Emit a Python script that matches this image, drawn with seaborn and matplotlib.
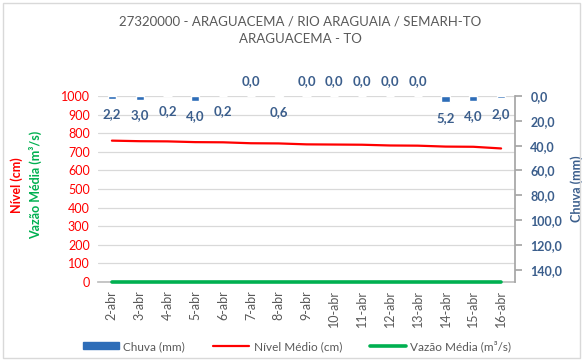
import matplotlib
matplotlib.use("Agg")
import matplotlib.pyplot as plt
from matplotlib.patches import Rectangle
from matplotlib.lines import Line2D
from matplotlib.patches import Patch
import seaborn as sns
import pandas as pd

# Daily records for the station
dias = ["2-abr", "3-abr", "4-abr", "5-abr", "6-abr", "7-abr", "8-abr", "9-abr",
        "10-abr", "11-abr", "12-abr", "13-abr", "14-abr", "15-abr", "16-abr"]
chuva = [2.2, 3.0, 0.2, 4.0, 0.2, 0.0, 0.6, 0.0, 0.0, 0.0, 0.0, 0.0, 5.2, 4.0, 2.0]
nivel = [760, 757, 756, 752, 751, 746, 745, 740, 739, 738, 734, 733, 728, 727, 718]
vazao = [0, 0, 0, 0, 0, 0, 0, 0, 0, 0, 0, 0, 0, 0, 0]

titulo = "27320000 - ARAGUACEMA / RIO ARAGUAIA / SEMARH-TO\nARAGUACEMA - TO"
nivel_ticks = list(range(0, 1001, 100))
chuva_ticks = [0, 20, 40, 60, 80, 100, 120, 140]

df = pd.DataFrame({"dia": dias, "chuva": chuva, "nivel": nivel, "vazao": vazao})

sns.set_theme(style="white")
plt.rcParams["font.family"] = ["Lato", "DejaVu Sans"]

AZUL = "#2E6DB8"
AZUL_TXT = "#3B5E8C"
VERMELHO = "#FF0000"
VERDE = "#00B050"
CINZA = "#595959"
GRADE = "#D9D9D9"

fig = plt.figure(figsize=(5.83, 3.61), dpi=100)
ax = fig.add_axes([98 / 583, 1 - 282 / 361, (515 - 98) / 583, (282 - 96) / 361])
ax2 = ax.twinx()

# Left axis: level and discharge lines
sns.lineplot(data=df, x="dia", y="vazao", ax=ax, color=VERDE, linewidth=2.6,
             sort=False, zorder=5, clip_on=False)
sns.lineplot(data=df, x="dia", y="nivel", ax=ax, color=VERMELHO, linewidth=1.6,
             sort=False, zorder=4)
ax.set_ylim(0, 1000)
ax.set_xlim(-0.5, len(dias) - 0.5)
ax.set_yticks(nivel_ticks)
ax.set_yticklabels([str(t) for t in nivel_ticks], color=VERMELHO, fontsize=9)
ax.grid(axis="y", color=GRADE, linewidth=0.9)
ax.set_axisbelow(True)
ax.set_xlabel("")
ax.set_ylabel("")

# Category ticks between days, labels at centers
ax.set_xticks(range(len(dias)))
ax.set_xticklabels(dias, rotation=90, fontsize=9, color=CINZA)
ax.tick_params(axis="x", length=0, pad=6)
ax.set_xticks([i - 0.5 for i in range(len(dias) + 1)], minor=True)
ax.tick_params(axis="x", which="minor", length=5, color="#BFBFBF", width=0.8)
ax.tick_params(axis="y", length=0, pad=6)

for s in ["top", "left", "right"]:
    ax.spines[s].set_visible(False)
ax.spines["bottom"].set_color("#BFBFBF")
ax.spines["bottom"].set_zorder(1)

# Right axis: rainfall bars hanging from the top
sns.barplot(data=df, x="dia", y="chuva", ax=ax2, color=AZUL, width=0.3,
            saturation=1, zorder=2)
ax2.set_ylim(150, 0)
ax2.set_xlim(-0.5, len(dias) - 0.5)
ax2.set_yticks(chuva_ticks)
ax2.set_yticklabels([f"{t:.1f}".replace(".", ",") for t in chuva_ticks],
                    color=AZUL_TXT, fontsize=9, fontweight="bold")
ax2.tick_params(axis="y", length=5, color="#A6A6A6", pad=6)
ax2.set_xlabel("")
ax2.set_ylabel("Chuva (mm)", color=AZUL_TXT, fontsize=9, fontweight="bold",
               labelpad=6)
for s in ["top", "left", "bottom"]:
    ax2.spines[s].set_visible(False)
ax2.spines["right"].set_color("#A6A6A6")
ax2.grid(False)

for i, v in enumerate(chuva):
    off = -11 if v > 0 else 11
    ax2.annotate(f"{v:.1f}".replace(".", ","), xy=(i, v), xytext=(0, off),
                 textcoords="offset points", ha="center", va="center",
                 color=AZUL_TXT, fontsize=9.5, fontweight="bold",
                 annotation_clip=False)

# Title and left axis titles
fig.text(0.515, 1 - 15 / 361, titulo, ha="center", va="top", fontsize=9.5,
         color=CINZA, linespacing=1.6)
fig.text(17 / 583, 1 - 185 / 361, "Nível (cm)", rotation=90, ha="center",
         va="center", color=VERMELHO, fontsize=9, fontweight="bold")
fig.text(35 / 583, 1 - 185 / 361, "Vazão Média (m³/s)", rotation=90, ha="center",
         va="center", color=VERDE, fontsize=9, fontweight="bold")

# Legend
handles = [
    Patch(facecolor=AZUL, edgecolor=AZUL),
    Line2D([], [], color=VERMELHO, linewidth=1.6),
    Line2D([], [], color=VERDE, linewidth=2.6),
]
labels = ["Chuva (mm)", "Nível Médio (cm)", "Vazão Média (m³/s)"]
leg = fig.legend(handles, labels, loc="center", bbox_to_anchor=(0.51, 1 - 346 / 361),
                 ncol=3, frameon=False, fontsize=8.5, handlelength=3.0,
                 handleheight=0.5, columnspacing=2.4, handletextpad=0.4)
for t in leg.get_texts():
    t.set_color(CINZA)

# Chart border
fig.patches.append(Rectangle((3 / 583, 3 / 361), 1 - 6 / 583, 1 - 6 / 361,
                             transform=fig.transFigure, fill=False,
                             edgecolor="#D9D9D9", linewidth=1))

fig.savefig("out.png", dpi=100)
